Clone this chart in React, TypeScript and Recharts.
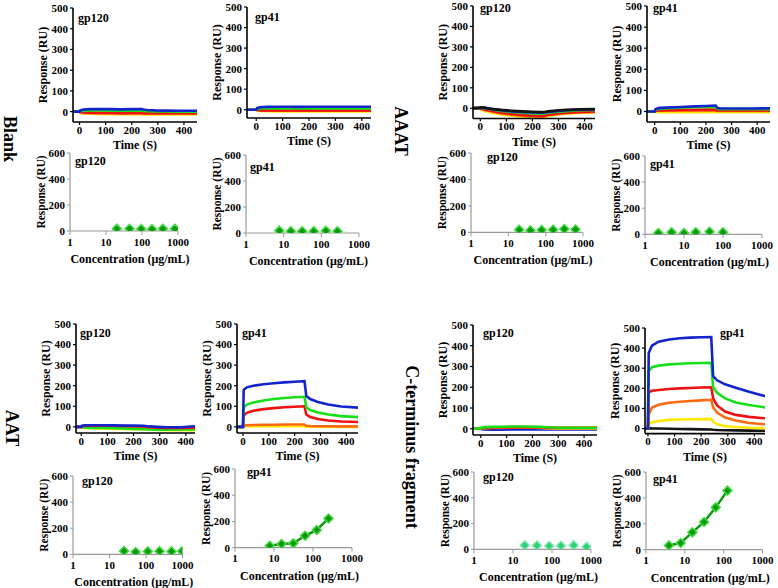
import React from 'react';
import { LineChart, Line, XAxis, YAxis, Label } from 'recharts';

const SERIF = '"Liberation Serif", "Times New Roman", serif';

const BLUE = '#1424cc';
const GREEN = '#18e018';
const RED = '#ee1111';
const ORANGE = '#ff6a10';
const YELLOW = '#ffe800';
const BLACK = '#151515';

// sensorgram sampling times (s)
const times = [-40, 0, 3, 15, 40, 80, 120, 160, 200, 238, 245, 260, 290, 330, 380, 450];
const timeTicks = [0, 100, 200, 300, 400];
const respTicks = [0, 100, 200, 300, 400, 500];
const concTicks = [1, 10, 100, 1000];
const doseTicks = [0, 200, 400, 600];

// Blank - gp120
const blankGp120Blue = [0, 0, 6, 10, 12, 13, 12, 11, 12, 13, 10, 8, 6, 5, 4, 4];
const blankGp120Green = [0, 0, 3, 5, 6, 6, 5, 4, 5, 5, 3, 2, 1, 1, 0, 0];
const blankGp120Red = [0, 0, -2, -4, -5, -6, -6, -7, -6, -6, -7, -7, -8, -8, -8, -8];
const blankGp120Orange = [0, 0, -4, -6, -7, -8, -8, -9, -9, -9, -10, -10, -10, -10, -10, -10];
const blankGp120Yellow = [0, 0, -6, -9, -10, -11, -12, -12, -12, -12, -13, -13, -13, -13, -13, -13];
// Blank - gp41
const blankGp41Blue = [0, 0, 8, 12, 14, 15, 15, 14, 15, 15, 15, 15, 15, 15, 15, 15];
const blankGp41Green = [0, 0, 4, 6, 7, 7, 6, 6, 6, 7, 6, 6, 6, 6, 6, 6];
const blankGp41Red = [0, 0, 0, -2, -3, -3, -3, -3, -3, -3, -3, -3, -3, -3, -3, -3];
const blankGp41Orange = [0, 0, -2, -4, -5, -5, -5, -5, -5, -5, -5, -5, -5, -5, -5, -5];
const blankGp41Yellow = [0, 0, -4, -6, -7, -8, -8, -8, -8, -8, -8, -8, -8, -8, -8, -8];
// AAAT - gp120
const aaatGp120Black = [0, 3, 5, 3, -2, -8, -12, -15, -17, -19, -18, -15, -11, -8, -5, -3];
const aaatGp120Blue = [0, 2, 4, 2, -3, -10, -15, -18, -20, -22, -21, -18, -14, -10, -7, -5];
const aaatGp120Green = [0, 1, 2, 0, -5, -13, -18, -22, -25, -27, -25, -22, -18, -14, -10, -8];
const aaatGp120Red = [0, 0, -2, -6, -12, -22, -28, -33, -36, -38, -36, -32, -27, -22, -18, -15];
const aaatGp120Orange = [0, 0, -3, -8, -15, -25, -31, -36, -39, -40, -38, -34, -29, -24, -20, -17];
const aaatGp120Yellow = [0, 0, -5, -12, -20, -30, -36, -40, -43, -44, -42, -38, -32, -27, -23, -20];
// AAAT - gp41
const aaatGp41Blue = [0, 0, 10, 16, 18, 20, 22, 24, 26, 28, 16, 14, 14, 14, 14, 15];
const aaatGp41Green = [0, 0, 8, 12, 14, 17, 19, 20, 21, 22, 12, 11, 11, 11, 11, 11];
const aaatGp41Red = [0, 0, 3, 5, 6, 7, 8, 8, 9, 9, 5, 5, 5, 5, 5, 5];
const aaatGp41Orange = [0, 0, 2, 3, 4, 4, 4, 4, 4, 4, 2, 2, 2, 2, 2, 2];
const aaatGp41Yellow = [0, 0, -2, -3, -3, -4, -4, -4, -4, -4, -4, -4, -4, -4, -4, -4];
// AAT - gp120
const aatGp120Blue = [0, 0, 5, 8, 8, 8, 7, 6, 6, 5, 4, 2, 0, -2, -2, 4];
const aatGp120Green = [0, 0, -2, -4, -5, -6, -7, -8, -10, -11, -12, -13, -14, -14, -13, -12];
const aatGp120Red = [0, 0, 2, 5, 6, 6, 5, 4, 3, 2, 0, -2, -4, -5, -6, -4];
const aatGp120Orange = [0, 0, 0, 1, 1, 1, 0, 0, 0, -1, -2, -3, -4, -4, -4, -4];
const aatGp120Yellow = [0, 0, -3, -6, -7, -8, -9, -10, -11, -12, -13, -14, -15, -16, -16, -16];
// AAT - gp41
const aatGp41Blue = [0, 0, 180, 192, 200, 207, 212, 216, 219, 222, 150, 135, 121, 109, 99, 93];
const aatGp41Green = [0, 0, 95, 108, 118, 128, 135, 140, 144, 146, 95, 82, 70, 60, 52, 47];
const aatGp41Red = [0, 0, 55, 68, 78, 86, 91, 95, 98, 100, 60, 48, 38, 31, 26, 23];
const aatGp41Orange = [0, 0, 6, 8, 9, 10, 10, 11, 11, 11, 5, 4, 3, 3, 2, 2];
const aatGp41Yellow = [0, 0, 2, 3, 3, 3, 3, 3, 3, 3, 1, 1, 1, 0, 0, 0];
// C-terminus fragment - gp120
const ctGp120Blue = [0, 0, -2, -3, -4, -4, -3, -3, -3, -3, -3, -3, -3, -3, -3, -3];
const ctGp120Green = [0, 2, 5, 8, 9, 10, 11, 11, 10, 9, 8, 7, 6, 5, 5, 5];
const ctGp120Red = [0, 0, 3, 5, 6, 7, 8, 8, 8, 7, 6, 6, 5, 5, 5, 5];
const ctGp120Orange = [0, 0, 2, 3, 4, 4, 5, 5, 5, 5, 4, 4, 4, 4, 4, 4];
const ctGp120Yellow = [0, 0, 2, 4, 5, 5, 5, 5, 5, 4, 3, 3, 2, 2, 2, 2];
// C-terminus fragment - gp41
const ctGp41Blue = [0, 0, 376, 412, 432, 443, 449, 452, 454, 455, 260, 240, 220, 203, 183, 158];
const ctGp41Green = [0, 0, 286, 305, 313, 319, 322, 325, 326, 327, 205, 178, 150, 130, 117, 103];
const ctGp41Red = [0, 0, 180, 188, 192, 197, 200, 202, 204, 205, 150, 115, 85, 68, 58, 50];
const ctGp41Orange = [0, 0, 70, 105, 118, 128, 133, 137, 140, 143, 105, 80, 55, 40, 28, 20];
const ctGp41Yellow = [0, 0, 20, 32, 38, 43, 45, 46, 47, 48, 35, 22, 12, 8, 4, 2];
const ctGp41Black = [0, 0, 2, 1, 0, -1, -2, -3, -4, -5, -6, -7, -8, -9, -10, -11];

// steady-state response vs concentration (ug/mL, RU)
const blankGp120Conc = [20, 45, 95, 190, 380, 820];
const blankGp120Resp = [18, 17, 16, 14, 17, 17];
const blankGp41Conc = [7.7, 15.5, 31, 63, 132, 268];
const blankGp41Resp = [18, 14, 13, 14, 17, 14];
const aaatGp120Conc = [19.5, 39, 78, 158, 316, 630];
const aaatGp120Resp = [20, 15, 18, 20, 26, 22];
const aaatGp41Conc = [2.2, 4.8, 10, 20, 45, 100];
const aaatGp41Resp = [10, 16, 10, 15, 20, 15];
const aatGp120Conc = [25, 52, 112, 235, 500, 980];
const aatGp120Resp = [25, 18, 22, 24, 22, 24];
const aatGp41Conc = [7.8, 15.6, 31.25, 62.5, 125, 250];
const aatGp41Resp = [15, 28, 33, 91, 135, 223];
const ctGp120Conc = [20, 41, 85, 170, 360, 770];
const ctGp120Resp = [31, 29, 26, 27, 32, 20];
const ctGp41Conc = [3.9, 7.8, 15.6, 31.25, 62.5, 125];
const ctGp41Resp = [33, 52, 134, 214, 327, 456];

type Trace = { color: string; values: number[] };

const tickStyle = { fill: '#000', fontSize: 11, fontWeight: 700, fontFamily: SERIF };
const axisLabelStyle = { fill: '#000', fontSize: 12, fontWeight: 700, fontFamily: SERIF };

function Sensorgram(props: {
    l: number; t: number; r: number; b: number;
    xMin: number; xMax: number; yMin: number; traces: Trace[];
}) {
    const { l, t, r, b, xMin, xMax, yMin, traces } = props;
    const padL = 45, padT = 12, padR = 12, padB = 32;
    const pw = r - l;
    const ph = b - t;
    const data = times.map((time, i) => {
        const row: Record<string, number> = { time };
        traces.forEach((tr, k) => {
            row['s' + k] = tr.values[i];
        });
        return row;
    });
    return (
        <div style={{ position: 'absolute', left: l - padL, top: t - padT }}>
            <LineChart
                width={pw + padL + padR}
                height={ph + padT + padB}
                data={data}
                margin={{ top: padT, right: padR, bottom: 0, left: 0 }}
            >
                <XAxis
                    dataKey='time'
                    type='number'
                    domain={[xMin, xMax]}
                    allowDataOverflow
                    ticks={timeTicks}
                    interval={0}
                    height={padB}
                    axisLine={{ stroke: '#000', strokeWidth: 1.6 }}
                    tickLine={{ stroke: '#000', strokeWidth: 1.2 }}
                    tickSize={3}
                    tickMargin={1}
                    tick={tickStyle}
                >
                    <Label
                        content={() => (
                            <text x={padL + pw / 2} y={padT + ph + 27} textAnchor='middle' style={axisLabelStyle}>
                                Time (S)
                            </text>
                        )}
                    />
                </XAxis>
                <YAxis
                    type='number'
                    domain={[yMin, 500]}
                    allowDataOverflow
                    ticks={respTicks}
                    interval={0}
                    width={padL}
                    axisLine={{ stroke: '#000', strokeWidth: 1.6 }}
                    tickLine={{ stroke: '#000', strokeWidth: 1.2 }}
                    tickSize={3}
                    tickMargin={2}
                    tick={tickStyle}
                >
                    <Label
                        content={() => (
                            <text
                                transform={`translate(${padL - 30},${padT + ph / 2}) rotate(-90)`}
                                textAnchor='middle'
                                dominantBaseline='central'
                                style={axisLabelStyle}
                            >
                                Response (RU)
                            </text>
                        )}
                    />
                </YAxis>
                {traces.map((tr, k) => (
                    <Line
                        key={k}
                        type='linear'
                        dataKey={'s' + k}
                        stroke={tr.color}
                        strokeWidth={2.6}
                        dot={false}
                        isAnimationActive={false}
                    />
                ))}
            </LineChart>
        </div>
    );
}

function DoseChart(props: {
    l: number; t: number; r: number; b: number;
    conc: number[]; resp: number[]; joined: boolean; fill: string; edge: string;
}) {
    const { l, t, r, b, conc, resp, joined, fill, edge } = props;
    const padL = 45, padT = 12, padR = 22, padB = 38;
    const pw = r - l;
    const ph = b - t;
    const data = conc.map((c, i) => ({ c, r: resp[i] }));
    const diamond = (p: any) => {
        const { cx, cy, index } = p;
        if (cx == null || cy == null) return <g key={index} />;
        const s = 4.5;
        return (
            <path
                key={index}
                d={`M${cx},${cy - s}L${cx + s},${cy}L${cx},${cy + s}L${cx - s},${cy}Z`}
                fill={fill}
                stroke={edge}
                strokeWidth={1.5}
            />
        );
    };
    return (
        <div style={{ position: 'absolute', left: l - padL, top: t - padT }}>
            <LineChart
                width={pw + padL + padR}
                height={ph + padT + padB}
                data={data}
                margin={{ top: padT, right: padR, bottom: 0, left: 0 }}
            >
                <XAxis
                    dataKey='c'
                    type='number'
                    scale='log'
                    domain={[1, 1000]}
                    allowDataOverflow
                    ticks={concTicks}
                    interval={0}
                    height={padB}
                    axisLine={{ stroke: '#9a9a9a', strokeWidth: 1.2 }}
                    tickLine={{ stroke: '#9a9a9a' }}
                    tickSize={4}
                    tickMargin={3}
                    tick={tickStyle}
                >
                    <Label
                        content={() => (
                            <text x={padL + pw / 2 + 6} y={padT + ph + 32} textAnchor='middle' style={axisLabelStyle}>
                                Concentration (μg/mL)
                            </text>
                        )}
                    />
                </XAxis>
                <YAxis
                    type='number'
                    domain={[0, 600]}
                    allowDataOverflow
                    ticks={doseTicks}
                    interval={0}
                    width={padL}
                    axisLine={{ stroke: '#9a9a9a', strokeWidth: 1.2 }}
                    tickLine={{ stroke: '#9a9a9a' }}
                    tickSize={3}
                    tickMargin={2}
                    tick={tickStyle}
                >
                    <Label
                        content={() => (
                            <text
                                transform={`translate(${padL - 29},${padT + ph / 2}) rotate(-90)`}
                                textAnchor='middle'
                                dominantBaseline='central'
                                style={{ ...axisLabelStyle, fontSize: 11.5 }}
                            >
                                Response (RU)
                            </text>
                        )}
                    />
                </YAxis>
                <Line
                    type='linear'
                    dataKey='r'
                    stroke={joined ? '#0c9a0c' : 'none'}
                    strokeWidth={2.5}
                    dot={diamond}
                    isAnimationActive={false}
                />
            </LineChart>
        </div>
    );
}

function Title({ x, cy, text }: { x: number; cy: number; text: string }) {
    return (
        <div
            style={{
                position: 'absolute',
                left: x,
                top: cy - 7,
                fontSize: 12,
                fontWeight: 700,
                lineHeight: '14px',
                whiteSpace: 'nowrap',
            }}
        >
            {text}
        </div>
    );
}

function RowLabel({ cx, cy, text }: { cx: number; cy: number; text: string }) {
    return (
        <div
            style={{
                position: 'absolute',
                left: cx,
                top: cy,
                transform: 'translate(-50%, -50%) rotate(90deg)',
                fontSize: 18,
                fontWeight: 700,
                lineHeight: '20px',
                whiteSpace: 'nowrap',
            }}
        >
            {text}
        </div>
    );
}

const DOT = '#0f980f';
const DOT_EDGE = '#3fdc3f';

export default function App() {
    return (
        <div
            style={{
                position: 'absolute',
                left: 0,
                top: 0,
                width: 778,
                height: 588,
                background: '#fff',
                fontFamily: SERIF,
                color: '#000',
            }}
        >
            {/* Blank */}
            <Sensorgram l={73} t={8} r={197} b={122} xMin={-25} xMax={450} yMin={-50}
                traces={[
                    { color: YELLOW, values: blankGp120Yellow },
                    { color: ORANGE, values: blankGp120Orange },
                    { color: RED, values: blankGp120Red },
                    { color: GREEN, values: blankGp120Green },
                    { color: BLUE, values: blankGp120Blue },
                ]} />
            <Sensorgram l={247} t={7} r={371} b={118} xMin={-35} xMax={435} yMin={-40}
                traces={[
                    { color: YELLOW, values: blankGp41Yellow },
                    { color: ORANGE, values: blankGp41Orange },
                    { color: RED, values: blankGp41Red },
                    { color: GREEN, values: blankGp41Green },
                    { color: BLUE, values: blankGp41Blue },
                ]} />
            <DoseChart l={70} t={152.5} r={178} b={230.5} conc={blankGp120Conc} resp={blankGp120Resp}
                joined={false} fill={DOT} edge={DOT_EDGE} />
            <DoseChart l={246} t={155} r={359} b={233} conc={blankGp41Conc} resp={blankGp41Resp}
                joined={false} fill={DOT} edge={DOT_EDGE} />

            {/* AAAT */}
            <Sensorgram l={473} t={6} r={595} b={118.5} xMin={-28} xMax={440} yMin={-50}
                traces={[
                    { color: YELLOW, values: aaatGp120Yellow },
                    { color: ORANGE, values: aaatGp120Orange },
                    { color: RED, values: aaatGp120Red },
                    { color: GREEN, values: aaatGp120Green },
                    { color: BLUE, values: aaatGp120Blue },
                    { color: BLACK, values: aaatGp120Black },
                ]} />
            <Sensorgram l={647} t={6} r={770} b={122} xMin={-30} xMax={450} yMin={-50}
                traces={[
                    { color: YELLOW, values: aaatGp41Yellow },
                    { color: ORANGE, values: aaatGp41Orange },
                    { color: RED, values: aaatGp41Red },
                    { color: GREEN, values: aaatGp41Green },
                    { color: BLUE, values: aaatGp41Blue },
                ]} />
            <DoseChart l={471} t={153.3} r={583} b={232.7} conc={aaatGp120Conc} resp={aaatGp120Resp}
                joined={false} fill={DOT} edge={DOT_EDGE} />
            <DoseChart l={645} t={156} r={762} b={234.3} conc={aaatGp41Conc} resp={aaatGp41Resp}
                joined={false} fill={DOT} edge={DOT_EDGE} />

            {/* AAT */}
            <Sensorgram l={76} t={324} r={195} b={433} xMin={-20} xMax={435} yMin={-30}
                traces={[
                    { color: YELLOW, values: aatGp120Yellow },
                    { color: ORANGE, values: aatGp120Orange },
                    { color: GREEN, values: aatGp120Green },
                    { color: RED, values: aatGp120Red },
                    { color: BLUE, values: aatGp120Blue },
                ]} />
            <Sensorgram l={237} t={324} r={358} b={433} xMin={-23} xMax={445} yMin={-30}
                traces={[
                    { color: YELLOW, values: aatGp41Yellow },
                    { color: ORANGE, values: aatGp41Orange },
                    { color: RED, values: aatGp41Red },
                    { color: GREEN, values: aatGp41Green },
                    { color: BLUE, values: aatGp41Blue },
                ]} />
            <DoseChart l={72.5} t={475.7} r={182} b={554} conc={aatGp120Conc} resp={aatGp120Resp}
                joined={false} fill={DOT} edge={DOT_EDGE} />
            <DoseChart l={235} t={469} r={352} b={547.7} conc={aatGp41Conc} resp={aatGp41Resp}
                joined={true} fill={DOT} edge={DOT_EDGE} />

            {/* C-terminus fragment */}
            <Sensorgram l={473} t={325} r={597} b={435} xMin={-30} xMax={450} yMin={-30}
                traces={[
                    { color: BLUE, values: ctGp120Blue },
                    { color: YELLOW, values: ctGp120Yellow },
                    { color: ORANGE, values: ctGp120Orange },
                    { color: RED, values: ctGp120Red },
                    { color: GREEN, values: ctGp120Green },
                ]} />
            <Sensorgram l={645} t={327.7} r={765} b={433.3} xMin={-11} xMax={440} yMin={-25}
                traces={[
                    { color: BLACK, values: ctGp41Black },
                    { color: YELLOW, values: ctGp41Yellow },
                    { color: ORANGE, values: ctGp41Orange },
                    { color: RED, values: ctGp41Red },
                    { color: GREEN, values: ctGp41Green },
                    { color: BLUE, values: ctGp41Blue },
                ]} />
            <DoseChart l={474} t={471.7} r={591} b={549} conc={ctGp120Conc} resp={ctGp120Resp}
                joined={false} fill='#2fcf78' edge='#7fe8b0' />
            <DoseChart l={645.5} t={472.3} r={762} b={550} conc={ctGp41Conc} resp={ctGp41Resp}
                joined={true} fill={DOT} edge={DOT_EDGE} />

            <Title x={78} cy={18} text='gp120' />
            <Title x={255} cy={17} text='gp41' />
            <Title x={480} cy={7.5} text='gp120' />
            <Title x={653} cy={8} text='gp41' />
            <Title x={75} cy={160.7} text='gp120' />
            <Title x={250} cy={166.7} text='gp41' />
            <Title x={487} cy={156.7} text='gp120' />
            <Title x={650} cy={164} text='gp41' />
            <Title x={80} cy={333} text='gp120' />
            <Title x={242} cy={333} text='gp41' />
            <Title x={483} cy={333} text='gp120' />
            <Title x={720} cy={333} text='gp41' />
            <Title x={82} cy={481} text='gp120' />
            <Title x={247} cy={471.7} text='gp41' />
            <Title x={483} cy={476.7} text='gp120' />
            <Title x={653} cy={479} text='gp41' />

            <RowLabel cx={10} cy={139} text='Blank' />
            <RowLabel cx={401} cy={131} text='AAAT' />
            <RowLabel cx={12} cy={428} text='AAT' />
            <RowLabel cx={412} cy={447} text='C-terminus fragment' />
        </div>
    );
}
